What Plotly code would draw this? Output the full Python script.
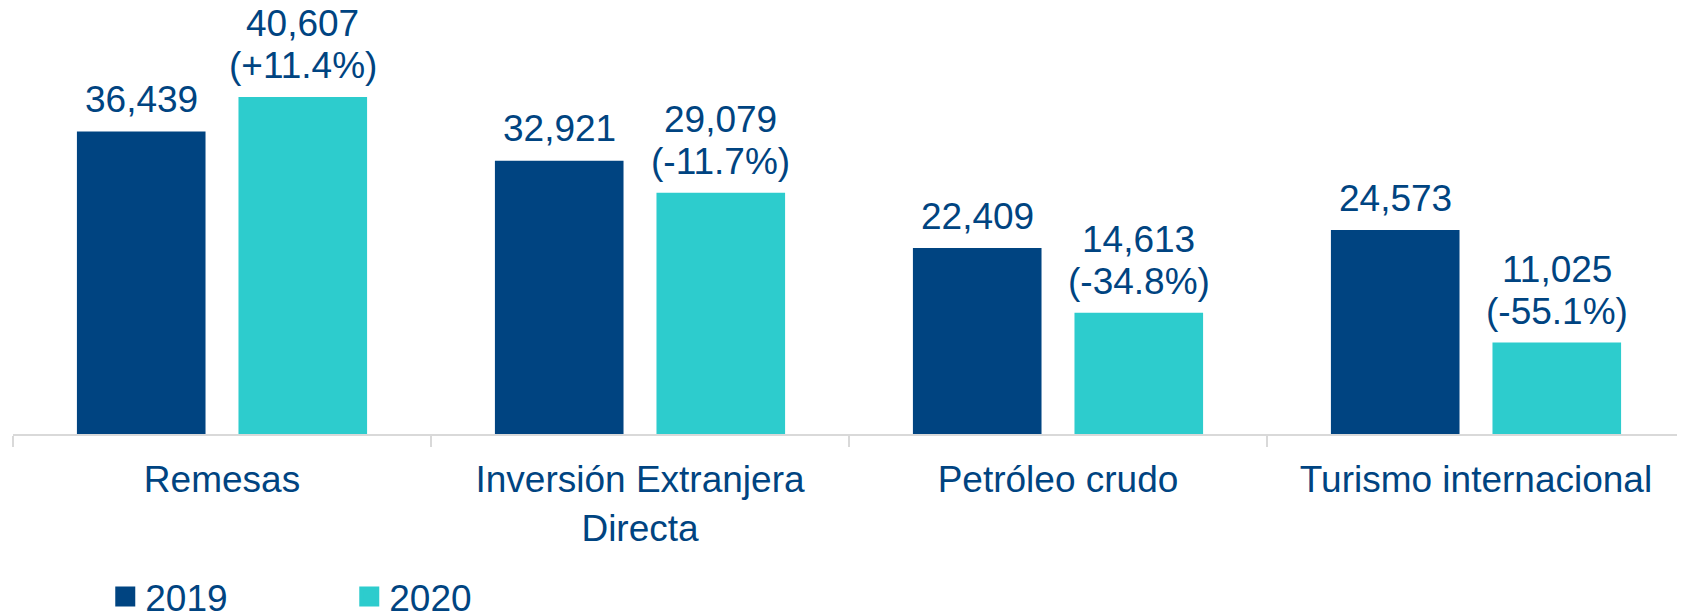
import plotly.graph_objects as go

categories = ["Remesas", "Inversión Extranjera<br>Directa", "Petróleo crudo", "Turismo internacional"]
values_2019 = [36439, 32921, 22409, 24573]
values_2020 = [40607, 29079, 14613, 11025]
series_names = ["2019", "2020"]

NAVY = "#004481"
AQUA = "#2DCCCD"
FONT = "Liberation Sans, Arial, sans-serif"
FS = 37
BARGAP = 0.227
BARGROUPGAP = 0.204

fig = go.Figure()
for name, vals, col in [(series_names[0], values_2019, NAVY), (series_names[1], values_2020, AQUA)]:
    fig.add_trace(go.Bar(x=categories, y=vals, name=name, marker_color=col,
                         marker_line_width=0, showlegend=False))
    # legend entries with larger square swatches
    fig.add_trace(go.Scatter(x=[None], y=[None], mode="markers", name=name,
                             marker=dict(symbol="square", size=16, color=col,
                                         line=dict(width=4, color=col))))

# value labels anchored to the bars through the axis scales
half = (1 - BARGAP) / 4
anns = []
for i, (a, b) in enumerate(zip(values_2019, values_2020)):
    anns.append(dict(x=i - half, y=a, text=f"{a:,}", yshift=32))
    anns.append(dict(x=i + half, y=b, text=f"({(b / a - 1) * 100:+.1f}%)", yshift=31))
    anns.append(dict(x=i + half, y=b, text=f"{b:,}", yshift=73))
for an in anns:
    fig.add_annotation(xref="x", yref="y", showarrow=False, xanchor="center", yanchor="middle",
                       font=dict(size=FS, color=NAVY, family=FONT), **an)

fig.update_layout(
    width=1677, height=604,
    margin=dict(l=5, r=0, t=0, b=178),
    plot_bgcolor="white", paper_bgcolor="white",
    barmode="group", bargap=BARGAP, bargroupgap=BARGROUPGAP,
    font=dict(family=FONT, color=NAVY, size=FS),
    legend=dict(orientation="h", xref="container", yref="container",
                x=0.058, y=0.025, xanchor="left", yanchor="middle",
                entrywidth=199, itemsizing="trace",
                font=dict(size=FS, color=NAVY, family=FONT),
                bgcolor="rgba(0,0,0,0)"),
    showlegend=True,
)
fig.update_xaxes(showline=True, linecolor="#D9D9D9", linewidth=2, ticks="outside",
                 tickson="boundaries", ticklen=11, tickcolor="#D9D9D9", tickwidth=2,
                 ticklabelstandoff=12, automargin=False,
                 tickfont=dict(size=FS, color=NAVY, family=FONT), showgrid=False)
fig.update_yaxes(visible=False, range=[0, 51325], showgrid=False, automargin=False)

fig.write_html("out.html")
